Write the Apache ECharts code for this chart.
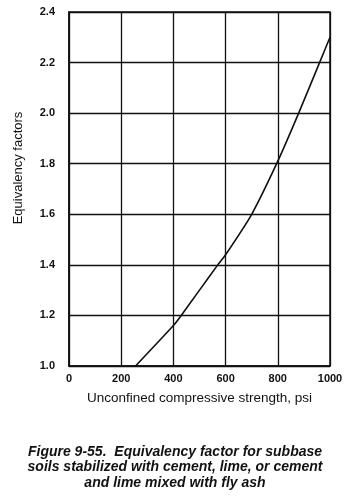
<!DOCTYPE html>
<html><head><meta charset="utf-8">
<script src="https://cdn.jsdelivr.net/npm/echarts@6/dist/echarts.min.js"></script>
<style>html,body{margin:0;padding:0;background:#fff}#c{width:350px;height:499px}</style>
</head><body><div id="c"></div>
<script>
var strengthPsi = [255, 400, 430, 500, 570, 600, 700, 800, 880, 960, 1000];
var equivFactor = [1.0, 1.16, 1.2, 1.3, 1.4, 1.44, 1.6, 1.81, 2.0, 2.2, 2.3];
var xTicks = [0, 200, 400, 600, 800, 1000];
var yTicks = [1.0, 1.2, 1.4, 1.6, 1.8, 2.0, 2.2, 2.4];
var yAxisTitle = 'Equivalency factors';
var xAxisTitle = 'Unconfined compressive strength, psi';
var captionLines = ['Figure 9-55.  Equivalency factor for subbase', 'soils stabilized with cement, lime, or cement', 'and lime mixed with fly ash'];

var chart = echarts.init(document.getElementById('c'), null, {renderer: 'canvas'});
var F = 'Liberation Sans, Arial, Helvetica, sans-serif';
var graphics = captionLines.map(function (t, i) {
  return {type: 'text', left: 'center', top: 445 + i * 15.5,
    style: {text: t, fill: '#111', font: 'italic bold 14px ' + F, textAlign: 'center'}};
});
graphics.push({type: 'text', x: 18, y: 168, rotation: Math.PI / 2,
  style: {text: yAxisTitle, fill: '#111', font: '13px ' + F, textAlign: 'center', textVerticalAlign: 'middle'}});
chart.setOption({
  animation: false,
  backgroundColor: '#fff',
  grid: {left: 69, right: 20, top: 12, bottom: 133, show: true, borderColor: '#111', borderWidth: 1.5},
  xAxis: {
    type: 'value', min: 0, max: 1000, interval: 200,
    axisLine: {show: true, lineStyle: {color: '#111', width: 1.5}},
    axisTick: {show: false},
    splitLine: {show: true, lineStyle: {color: '#111', width: 1.3}},
    axisLabel: {color: '#111', fontFamily: F, fontSize: 11, fontWeight: 'bold', margin: 7,
      formatter: function (v) { return xTicks.indexOf(v) >= 0 ? String(v) : ''; }},
    name: xAxisTitle, nameLocation: 'middle', nameGap: 25,
    nameTextStyle: {color: '#111', fontFamily: F, fontSize: 13.5}
  },
  yAxis: {
    type: 'value', min: 1.0, max: 2.4, interval: 0.2,
    axisLine: {show: true, lineStyle: {color: '#111', width: 1.5}},
    axisTick: {show: false},
    splitLine: {show: true, lineStyle: {color: '#111', width: 1.3}},
    axisLabel: {color: '#111', fontFamily: F, fontSize: 11, fontWeight: 'bold', margin: 14,
      formatter: function (v) { return v.toFixed(1); }}
  },
  series: [{
    type: 'line', data: strengthPsi.map(function (x, i) { return [x, equivFactor[i]]; }),
    showSymbol: false, smooth: 0.2, lineStyle: {color: '#111', width: 1.6}
  }],
  graphic: graphics
});
</script></body></html>
